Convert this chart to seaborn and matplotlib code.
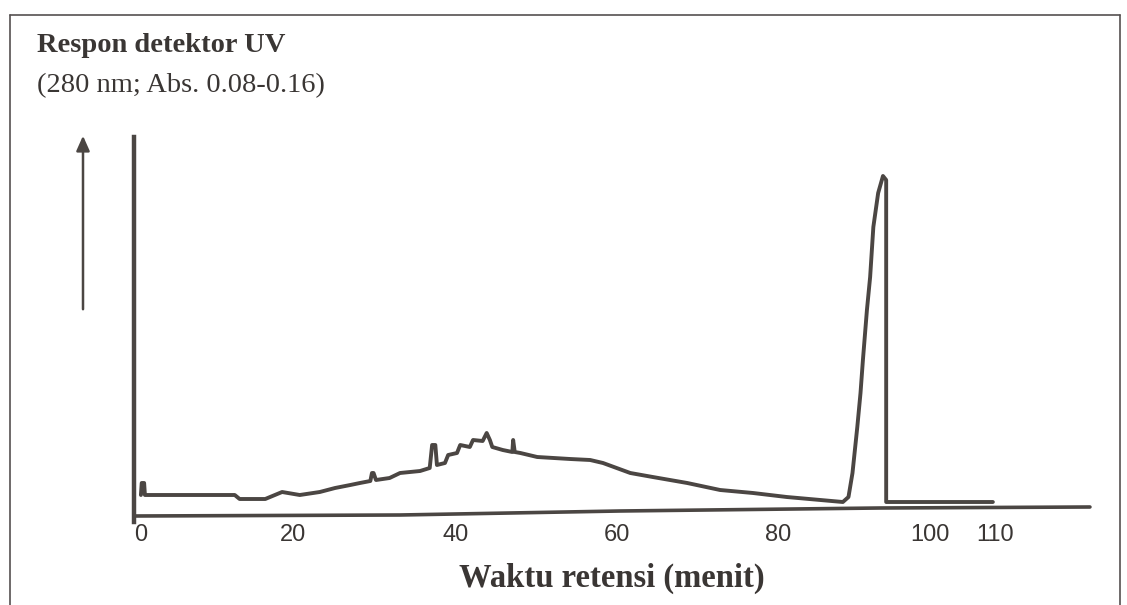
import numpy as np
import pandas as pd
import matplotlib
matplotlib.use('Agg')
import matplotlib.pyplot as plt
import seaborn as sns

# upper trace: retention time (menit) vs detector response (arbitrary units)
trace_t = [0.5, 0.6, 0.9, 1.0, 12.2, 12.8, 16.0, 18.1, 20.3, 22.8, 24.7, 26.6, 27.8,
           29.1, 29.3, 29.5, 29.8, 31.5, 32.8, 35.3, 36.5, 36.8, 37.2, 37.4, 38.4,
           38.8, 39.9, 40.3, 41.5, 41.9, 43.1, 43.6, 44.0, 44.3, 45.6, 46.8, 46.9,
           47.1, 47.8, 49.9, 54.0, 56.5, 58.1, 61.5, 64.3, 68.6, 72.7, 76.8, 81.0,
           85.2, 88.0, 88.7, 89.2, 89.8, 90.2, 90.5, 91.0, 91.4, 91.8, 92.4, 93.0,
           93.4, 93.4, 106.7]
trace_y = [2.2, 3.4, 3.4, 2.2, 2.2, 1.8, 1.8, 2.5, 2.2, 2.5, 2.9, 3.2, 3.4,
           3.6, 4.4, 4.4, 3.7, 3.9, 4.4, 4.6, 4.9, 7.2, 7.2, 5.2, 5.4,
           6.2, 6.4, 7.2, 7.0, 7.7, 7.6, 8.4, 7.7, 7.0, 6.7, 6.5, 7.7,
           6.5, 6.4, 6.0, 5.8, 5.7, 5.4, 4.4, 4.0, 3.4, 2.7, 2.4, 2.0,
           1.7, 1.5, 2.0, 4.4, 9.0, 12.4, 15.7, 20.7, 24.0, 29.0, 32.4, 34.1,
           33.7, 1.5, 1.5]

# lower trace (baseline)
base_t = [-0.3, 32.8, 60.2, 92.6, 118.8]
base_y = [0.1, 0.2, 0.6, 0.9, 1.0]

tick_pos = [0.5, 19.5, 39.7, 59.9, 79.9, 98.9, 107.0]
tick_labels = ['0', '20', '40', '60', '80', '100', '110']

ink = '#4b4643'
txt = '#3a3634'

sns.set_style('white')
fig = plt.figure(figsize=(11.27, 6.05), dpi=100)
ax = fig.add_axes([100 / 1127, 75 / 605, 1010 / 1127, 400 / 605])

upper = pd.DataFrame({'t': trace_t, 'y': trace_y})
lower = pd.DataFrame({'t': base_t, 'y': base_y})
sns.lineplot(data=upper, x='t', y='y', ax=ax, color=ink, lw=2.8, sort=False,
             estimator=None)
sns.lineplot(data=lower, x='t', y='y', ax=ax, color=ink, lw=2.6, sort=False,
             estimator=None)

ax.set_xlim(-4.6, 121.3)
ax.set_ylim(-1.3, 38.7)
for s in ['top', 'right', 'bottom']:
    ax.spines[s].set_visible(False)
ax.spines['left'].set_position(('data', -0.4))
ax.spines['left'].set_bounds(-0.5, 38.0)
ax.spines['left'].set_linewidth(3.2)
ax.spines['left'].set_color(ink)
ax.set_yticks([])
ax.set_xticks(tick_pos)
ax.set_xticklabels(tick_labels, fontfamily='Liberation Sans', fontsize=17,
                   color=txt)
ax.tick_params(axis='x', length=0, pad=-4)
ax.set_xlabel('Waktu retensi (menit)', fontfamily='Liberation Serif',
              fontweight='bold', fontsize=23.5, color=txt)
ax.xaxis.label.set_va('center')
ax.xaxis.set_label_coords((612 - 100) / 1010, -(578 - 530) / 400)
ax.set_ylabel('')

fig.text(37 / 1127, 1 - 45 / 605, 'Respon detektor UV', fontfamily='Liberation Serif',
         fontweight='bold', fontsize=20.5, color=txt, va='center')
fig.text(37 / 1127, 1 - 86 / 605, '(280 nm; Abs. 0.08-0.16)',
         fontfamily='Liberation Serif', fontsize=20.5, color=txt, va='center')

# arrow pointing up
fig.add_artist(matplotlib.patches.FancyArrowPatch(
    (83 / 1127, 1 - 312 / 605), (83 / 1127, 1 - 133 / 605),
    transform=fig.transFigure, arrowstyle='-|>,head_length=9,head_width=4',
    color=ink, lw=1.8))

# scanned page frame
frame = dict(color='#555050', lw=1.2, transform=fig.transFigure)
fig.add_artist(matplotlib.lines.Line2D([10 / 1127, 1120 / 1127], [1 - 15 / 605, 1 - 15 / 605], **frame))
fig.add_artist(matplotlib.lines.Line2D([10 / 1127, 10 / 1127], [0, 1 - 15 / 605], **frame))
fig.add_artist(matplotlib.lines.Line2D([1120 / 1127, 1120 / 1127], [0, 1 - 15 / 605], **frame))

fig.savefig('out.png', dpi=100)
